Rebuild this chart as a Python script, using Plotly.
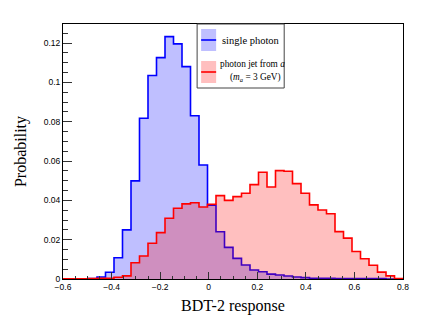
import plotly.graph_objects as go

# ---- data ----
BIN_LO = -0.6
BIN_HI = 0.8
N_BINS = 40

single_photon = [0.0, 0.0, 0.0, 0.0002, 0.0010, 0.0034, 0.0108, 0.0250, 0.0499, 0.0818,
                 0.1035, 0.1126, 0.1233, 0.1196, 0.1080, 0.0830, 0.0580, 0.0375, 0.0240, 0.0161,
                 0.0105, 0.0071, 0.0046, 0.0037, 0.0025, 0.0020, 0.0015, 0.0010, 0.0007, 0.0004,
                 0.0004, 0.0003, 0.0002, 0.0002, 0.0002, 0.0002, 0.0002, 0.0002, 0.0, 0.0]

photon_jet = [0.0001, 0.0001, 0.0001, 0.0002, 0.0003, 0.0004, 0.0009, 0.0016, 0.0083, 0.0117,
              0.0182, 0.0236, 0.0309, 0.0360, 0.0382, 0.0388, 0.0366, 0.0380, 0.0424, 0.0400,
              0.0419, 0.0436, 0.0480, 0.0543, 0.0468, 0.0551, 0.0548, 0.0485, 0.0436, 0.0377,
              0.0351, 0.0332, 0.0241, 0.0208, 0.0140, 0.0103, 0.0070, 0.0035, 0.0016, 0.0002]

x_ticks = [-0.6, -0.4, -0.2, 0, 0.2, 0.4, 0.6, 0.8]
y_ticks = [0, 0.02, 0.04, 0.06, 0.08, 0.1, 0.12]

edges = [BIN_LO + (BIN_HI - BIN_LO) * i / N_BINS for i in range(N_BINS + 1)]


def step_xy(vals):
    xs = [edges[0]] + edges
    ys = [0] + list(vals) + [0]
    return xs, ys


W, H = 436, 327
L, R, T, B = 63, 33.3, 24, 48
PW, PH = W - L - R, H - T - B


def px(x):
    return (x - L) / PW


def py(y):
    return (H - B - y) / PH


BLUE = "#0000ff"
RED = "#ff0000"
BLUE_FILL = "rgba(0,0,255,0.25)"
RED_FILL = "rgba(255,0,0,0.25)"

fig = go.Figure()
for vals, line_c, fill_c, name in [(single_photon, BLUE, BLUE_FILL, "single photon"),
                                   (photon_jet, RED, RED_FILL, "photon jet from a")]:
    xs, ys = step_xy(vals)
    fig.add_trace(go.Scatter(x=xs, y=ys, mode="lines", line=dict(color=line_c, width=1.6, shape="hv"),
                             fill="tozeroy", fillcolor=fill_c, name=name, showlegend=False))

tickfont = dict(family="Liberation Sans, Arial, sans-serif", size=8.5, color="black")
serif = "Liberation Serif"

fig.update_xaxes(range=[BIN_LO, BIN_HI], tickvals=x_ticks, ticks="inside", ticklen=7, tickcolor="#333",
                 showline=True, linecolor="black", linewidth=1, mirror=True, showgrid=False, zeroline=False,
                 tickfont=tickfont, automargin=False,
                 minor=dict(dtick=0.05, ticks="inside", ticklen=3.5, tickcolor="#333", showgrid=False),
                 title=dict(text="BDT-2 response", font=dict(family=serif, size=16, color="black"), standoff=8))
fig.update_yaxes(range=[0, 0.1297], tickvals=y_ticks, ticks="inside", ticklen=9, tickcolor="#333",
                 showline=True, linecolor="black", linewidth=1, mirror=True, showgrid=False, zeroline=False,
                 tickfont=tickfont, automargin=False,
                 minor=dict(dtick=0.005, ticks="inside", ticklen=4.5, tickcolor="#333", showgrid=False),
                 title=dict(text="Probability", font=dict(family=serif, size=16, color="black"), standoff=13))

shapes = [
    dict(type="rect", xref="paper", yref="paper", x0=px(197), x1=px(284), y0=py(88), y1=py(24),
         line=dict(color="#444", width=1), fillcolor="white", layer="above"),
    dict(type="rect", xref="paper", yref="paper", x0=px(201), x1=px(216), y0=py(51), y1=py(29),
         line=dict(width=0), fillcolor=BLUE_FILL, layer="above"),
    dict(type="line", xref="paper", yref="paper", x0=px(201), x1=px(216), y0=py(40), y1=py(40),
         line=dict(color=BLUE, width=1.6), layer="above"),
    dict(type="rect", xref="paper", yref="paper", x0=px(201), x1=px(216), y0=py(83), y1=py(61),
         line=dict(width=0), fillcolor=RED_FILL, layer="above"),
    dict(type="line", xref="paper", yref="paper", x0=px(201), x1=px(216), y0=py(72), y1=py(72),
         line=dict(color=RED, width=1.6), layer="above"),
]
annotations = [
    dict(text="single photon", xref="paper", yref="paper", x=px(220), y=py(40.5), xanchor="left",
         yanchor="middle", showarrow=False, font=dict(family=serif, size=10.5, color="black")),
    dict(text="photon jet from <i>a</i>", xref="paper", yref="paper", x=px(218), y=py(64), xanchor="left",
         yanchor="middle", showarrow=False, font=dict(family=serif, size=9.3, color="black")),
    dict(text="(<i>m<sub>a</sub></i> = 3 GeV)", xref="paper", yref="paper", x=px(282.5), y=py(77),
         xanchor="right", yanchor="middle", showarrow=False, font=dict(family=serif, size=9.3, color="black")),
]

fig.update_layout(width=W, height=H, margin=dict(l=L, r=R, t=T, b=B), paper_bgcolor="white",
                  plot_bgcolor="white", showlegend=False, shapes=shapes, annotations=annotations)

fig.write_html("out.html", config={"displayModeBar": False},
               post_script="document.body.style.margin='0';document.body.style.padding='0';")
